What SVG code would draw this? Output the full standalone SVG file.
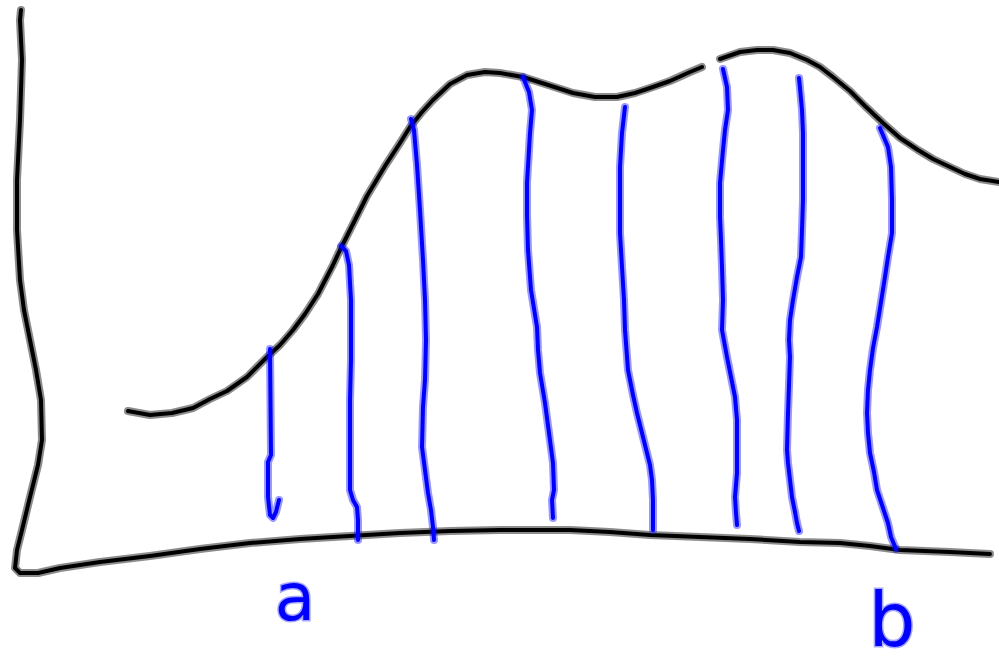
<svg xmlns="http://www.w3.org/2000/svg" xmlns:xlink="http://www.w3.org/1999/xlink" width="999" height="663" viewBox="0 0 999 663">
<style>
path{fill:none;stroke-linecap:round;stroke-linejoin:round}
.kh{stroke:#000;stroke-opacity:0.45;stroke-width:8}
.k{stroke:#000;stroke-width:4}
.bh{stroke:#0000ff;stroke-opacity:0.4;stroke-width:8}
.b{stroke:#0000ff;stroke-width:4}
.lbl{font-family:"DejaVu Sans",sans-serif;fill:#0000ff;stroke:#0000ff;stroke-opacity:0.35;stroke-width:3;paint-order:stroke}
</style>
<defs>
<path id="axis" d="M21,10 L20,20 L22,60 L20,120 L17,180 L17,230 L20,280 L24,310 L30,340 L36,370 L41,400 L42,440 L38,465 L30,497 L22,530 L17,550 L15,568 L20,573 L38,573 L60,568 L100,562 L150,556 L200,549 L250,543 L300,539 L333,537 L400,533 L450,531 L500,530 L570,530 L610,532 L650,535 L700,537 L750,539 L800,542 L840,543 L870,546 L900,550 L950,552 L990,554"/>
<path id="curve1" d="M128,411 L150,415 L172,413 L193,408 L210,399 L227,391 L247,377 L267,357 L280,345 L293,330 L305,314 L318,294 L333,265 L340,250 L350,230 L367,196 L385,166 L400,143 L410,127 L422,112 L433,100 L450,84 L467,75 L485,72 L500,73 L523,77 L545,84 L573,93 L595,97 L617,97 L635,93 L650,88 L670,81 L690,72 L702,67"/>
<path id="curve2" d="M720,59 L740,52 L757,50 L773,50 L790,53 L807,60 L820,67 L833,77 L850,91 L865,106 L883,123 L900,138 L918,150 L933,159 L950,167 L965,174 L980,179 L999,182"/>
<path id="s1" d="M270,349 L271,455 L268,462 L268,497 L270,515 L273,518 L276,512 L279,500"/>
<path id="s2" d="M341,246 L346,251 L349,265 L351,300 L351,360 L350,400 L350,460 L350,490 L353,500 L357,507 L358,520 L358,540"/>
<path id="s3" d="M411,119 L414,130 L417,165 L420,210 L423,260 L425,300 L426,340 L425,380 L423,407 L422,447 L425,470 L428,493 L431,510 L433,527 L434,540"/>
<path id="s4" d="M523,77 L529,92 L532,110 L530,133 L527,183 L527,215 L528,250 L531,290 L537,327 L538,350 L540,373 L545,403 L549,433 L553,463 L554,490 L552,500 L553,518"/>
<path id="s5" d="M625,107 L622,133 L620,167 L620,233 L622,267 L624,300 L625,330 L628,370 L633,395 L637,413 L642,433 L647,453 L650,465 L652,480 L653,500 L653,530"/>
<path id="s6" d="M723,69 L727,87 L728,110 L725,130 L723,150 L720,183 L720,217 L721,240 L722,267 L723,300 L722,330 L727,357 L731,377 L735,397 L737,420 L737,437 L737,473 L735,497 L736,513 L737,525"/>
<path id="s7" d="M799,78 L800,88 L802,110 L803,133 L803,200 L802,230 L801,257 L797,277 L793,300 L790,320 L789,340 L790,357 L789,385 L788,413 L787,450 L788,463 L790,480 L792,497 L795,512 L797,523 L799,531"/>
<path id="s8" d="M880,128 L888,147 L891,167 L892,200 L892,233 L888,257 L885,277 L881,302 L877,327 L873,348 L870,370 L868,390 L867,413 L868,433 L870,453 L874,472 L877,490 L882,505 L888,523 L891,537 L896,549"/>
</defs>
<g id="axes">
<use href="#axis" class="kh"/><use href="#axis" class="k"/>
</g>
<g id="function-curve">
<use href="#curve1" class="kh"/><use href="#curve1" class="k"/>
<use href="#curve2" class="kh"/><use href="#curve2" class="k"/>
</g>
<g id="strips">
<use href="#s1" class="bh"/><use href="#s1" class="b"/>
<use href="#s2" class="bh"/><use href="#s2" class="b"/>
<use href="#s3" class="bh"/><use href="#s3" class="b"/>
<use href="#s4" class="bh"/><use href="#s4" class="b"/>
<use href="#s5" class="bh"/><use href="#s5" class="b"/>
<use href="#s6" class="bh"/><use href="#s6" class="b"/>
<use href="#s7" class="bh"/><use href="#s7" class="b"/>
<use href="#s8" class="bh"/><use href="#s8" class="b"/>
</g>
<g id="label-a"><text class="lbl" x="295" y="620" font-size="66" text-anchor="middle">a</text></g>
<g id="label-b"><text class="lbl" x="892" y="646" font-size="74" text-anchor="middle">b</text></g>
</svg>
